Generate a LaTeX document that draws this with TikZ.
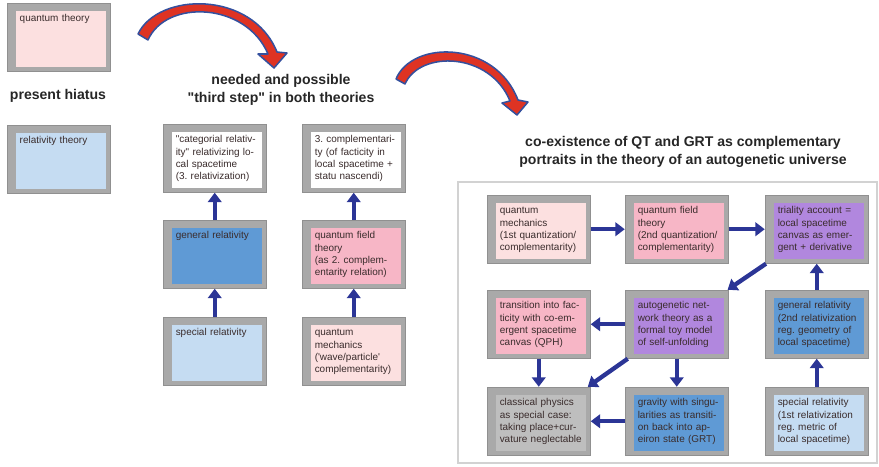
\documentclass[tikz,border=0pt]{standalone}
\usepackage{fontspec}
\setmainfont{Liberation Sans}
\usetikzlibrary{arrows.meta,positioning,calc,backgrounds,fit}
\definecolor{PinkL}{HTML}{FCE0E0}
\definecolor{PinkM}{HTML}{F7B6C6}
\definecolor{Violet}{HTML}{B187DE}
\definecolor{BlueM}{HTML}{5F9AD5}
\definecolor{BlueL}{HTML}{C5DCF2}
\definecolor{GrayC}{HTML}{BEBEBE}
\definecolor{FrameGray}{HTML}{A9A9A9}
\definecolor{FrameDark}{HTML}{7C7C7C}
\definecolor{FlowBlue}{HTML}{2B3596}
\definecolor{ArcRed}{HTML}{DE3323}
\definecolor{ArcBlue}{HTML}{34509E}
\definecolor{InkText}{HTML}{3A2C2C}
\newcommand{\cardfont}{\fontsize{8.5}{10.5}\selectfont\frenchspacing}

\tikzset{
  card/.style={fill=#1, anchor=north west, align=left, text=InkText,
    minimum width=2.7cm, text width=2.7cm-6pt, inner xsep=3pt, inner ysep=2pt,
    text height=7pt, text depth=36.8pt, font=\cardfont},
  frame/.style={fill=FrameGray, draw=FrameGray!85!black, line width=0.4pt, inner sep=0pt},
  flow/.style={draw=FlowBlue, line width=3.7pt, -{Triangle[width=11.5pt,length=8pt]}},
  bigarrow/.style={fill=ArcRed, draw=ArcBlue, line width=1.3pt, line join=round},
  headline/.style={font=\fontsize{12}{15.5}\selectfont\bfseries, align=center, text=black!85}
}

\begin{document}
\begin{tikzpicture}[x=0.03cm, y=-0.03cm]
  \useasboundingbox (0,0) rectangle (879,466);

  % present hiatus
  \node[card=PinkL] (qt) at (16,11) {quantum theory};
  \node[headline] (hiatus) at (58,96) {present hiatus};
  \node[card=BlueL] (rt) at (16,133) {relativity theory};

  % third step
  \node[headline] (third) at (281,90) {needed and possible\\ \textquotedbl third step\textquotedbl{} in both theories};
  \node[card=white] (cat) at (172,132) {\textquotedbl categorial relativ-\\ ity\textquotedbl{} relativizing lo-\\ cal spacetime\\ (3. relativization)};
  \node[card=BlueM] (gr) at (172,228) {general relativity};
  \node[card=BlueL] (sr) at (172,325) {special relativity};
  \node[card=white] (comp) at (311,132) {3. complementari-\\ ty (of facticity in\\ local spacetime +\\ statu nascendi)};
  \node[card=PinkM] (qft) at (311,228) {quantum field\\ theory\\ (as 2. complem-\\ entarity relation)};
  \node[card=PinkL] (qm) at (311,325) {quantum\\ mechanics\\ (\textquotesingle wave/particle\textquotesingle\\ complementarity)};

  % autogenetic universe
  \node[headline] (coex) at (683,152) {co-existence of QT and GRT as complementary\\ portraits in the theory of an autogenetic universe};
  \draw[draw=gray!35, line width=1.6pt] (458,182) rectangle (877,463);
  \node[card=PinkL] (uqm) at (496,203) {quantum\\ mechanics\\ (1st quantization/\\ complementarity)};
  \node[card=PinkM] (uqft) at (634,203) {quantum field\\ theory\\ (2nd quantization/\\ complementarity)};
  \node[card=Violet] (tri) at (774,203) {triality account =\\ local spacetime\\ canvas as emer-\\ gent + derivative};
  \node[card=PinkM] (trans) at (496,298) {transition into fac-\\ ticity with co-em-\\ ergent spacetime\\ canvas (QPH)};
  \node[card=Violet] (auto) at (634,298) {autogenetic net-\\ work theory as a\\ formal toy model\\ of self-unfolding};
  \node[card=BlueM] (ugr) at (774,298) {general relativity\\ (2nd relativization\\ reg. geometry of\\ local spacetime)};
  \node[card=GrayC] (cl) at (496,395) {classical physics\\ as special case:\\ taking place+cur-\\ vature neglectable};
  \node[card=BlueM] (grav) at (634,395) {gravity with singu-\\ larities as transiti-\\ on back into ap-\\ eiron state (GRT)};
  \node[card=BlueL] (usr) at (774,395) {special relativity\\ (1st relativization\\ reg. metric of\\ local spacetime)};

  % gray frames behind the cards
  \begin{scope}[on background layer]
    \foreach \n in {qt,rt,cat,gr,sr,comp,qft,qm,uqm,uqft,tri,trans,auto,ugr,cl,grav,usr}{
      \node[frame, fit={($(\n.north west)+(-9,-8)$) ($(\n.south east)+(4,4)$)}] (\n-f) {};
      \draw[FrameDark, line width=0.8pt] (\n.south west) -- (\n.north west) -- (\n.north east);
    }
  \end{scope}

  % connectors
  \draw[flow] (gr-f) -- (cat-f);
  \draw[flow] (sr-f) -- (gr-f);
  \draw[flow] (qft-f) -- (comp-f);
  \draw[flow] (qm-f) -- (qft-f);
  \draw[flow] (uqm-f) -- (uqft-f);
  \draw[flow] (uqft-f) -- (tri-f);
  \draw[flow] (tri-f) -- (auto-f);
  \draw[flow] (ugr-f) -- (tri-f);
  \draw[flow] (usr-f) -- (ugr-f);
  \draw[flow] (auto-f) -- (trans-f);
  \draw[flow] (auto-f) -- (cl-f);
  \draw[flow] (auto-f) -- (grav-f);
  \draw[flow] (trans-f) -- (cl-f);
  \draw[flow] (grav-f) -- (cl-f);

  % big curved arrows
  \filldraw[bigarrow] (138,34) .. controls (158,-8) and (252,-10) .. (277,52)
    -- (287,53) -- (274,68) -- (258,54) -- (268,54)
    .. controls (246,2) and (166,-1) .. (148,40) -- cycle;
  \filldraw[bigarrow] (396,79) .. controls (412,40) and (495,40) .. (518,100)
    -- (528,102) -- (517,115) -- (502,103) -- (510,101)
    .. controls (490,52) and (420,50) .. (405,84) -- cycle;
\end{tikzpicture}
\end{document}
